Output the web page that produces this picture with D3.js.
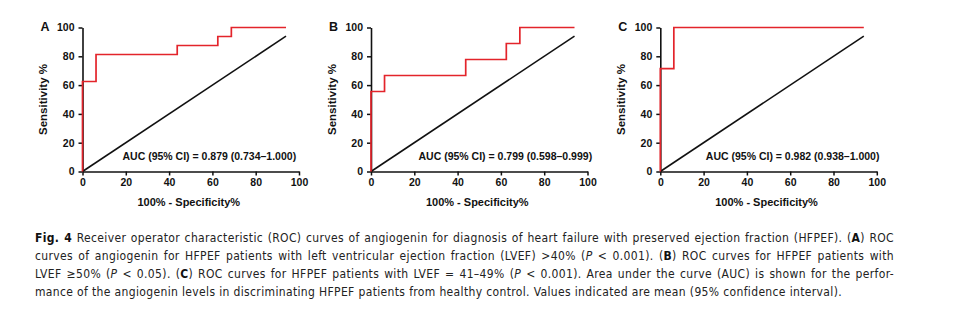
<!DOCTYPE html>
<html><head><meta charset="utf-8">
<script src="https://cdn.jsdelivr.net/npm/d3@7"></script>
<style>
body{margin:0;background:#fff;}
svg{display:block;}
</style></head>
<body>
<svg id="chart" width="953" height="321"></svg>
<script>
// ---- data ----
const panelLetters = ["A", "B", "C"];
const aucLabels = [
  "AUC (95% CI) = 0.879 (0.734–1.000)",
  "AUC (95% CI) = 0.799 (0.598–0.999)",
  "AUC (95% CI) = 0.982 (0.938–1.000)"
];
// ROC step vertices (100% - specificity %, sensitivity %)
const rocA_x = [0, 0, 6.25, 43.75, 62.5, 68.75, 94];
const rocA_y = [0, 62.5, 81.25, 87.5, 93.75, 100, 100];
const rocB_x = [0, 0, 6.25, 43.75, 62.5, 68.75, 94];
const rocB_y = [0, 55.56, 66.67, 77.78, 88.89, 100, 100];
const rocC_x = [0, 0, 6.25, 94];
const rocC_y = [0, 71.43, 100, 100];
const refLine_x = [0, 94];
const refLine_y = [0, 94];
const xTicks = [0, 20, 40, 60, 80, 100];
const yTicks = [0, 20, 40, 60, 80, 100];
const xTitle = "100% - Specificity%";
const yTitle = "Sensitivity %";

// caption: segments [text, style] ; style: n normal, b bold, i italic
const captionLines = [
  [["Fig. 4", "b"], [" Receiver operator characteristic (ROC) curves of angiogenin for diagnosis of heart failure with preserved ejection fraction (HFPEF). (", "n"], ["A", "b"], [") ROC", "n"]],
  [["curves of angiogenin for HFPEF patients with left ventricular ejection fraction (LVEF) >40% (", "n"], ["P", "i"], [" < 0.001). (", "n"], ["B", "b"], [") ROC curves for HFPEF patients with", "n"]],
  [["LVEF ≥50% (", "n"], ["P", "i"], [" < 0.05). (", "n"], ["C", "b"], [") ROC curves for HFPEF patients with LVEF = 41–49% (", "n"], ["P", "i"], [" < 0.001). Area under the curve (AUC) is shown for the perfor-", "n"]],
  [["mance of the angiogenin levels in discriminating HFPEF patients from healthy control. Values indicated are mean (95% confidence interval).", "n"]]
];

// ---- layout ----
const panels = [
  {x0: 82.5, aucX: 122.5, xs: rocA_x, ys: rocA_y},
  {x0: 371,  aucX: 418.5, xs: rocB_x, ys: rocB_y},
  {x0: 660.3, aucX: 705.8, xs: rocC_x, ys: rocC_y}
];
const plotW = 216.5, yTop = 27.5, yBot = 171.5;
const font = "'Liberation Sans', Arial, Helvetica, sans-serif";
const red = "#e3242b";

const svg = d3.select("#chart");
svg.append("rect").attr("width", 953).attr("height", 321).attr("fill", "#fff");

panels.forEach((p, i) => {
  const x = d3.scaleLinear().domain([0, 100]).range([p.x0, p.x0 + plotW]);
  const y = d3.scaleLinear().domain([0, 100]).range([yBot, yTop]);
  const g = svg.append("g");

  // diagonal reference
  const diag = refLine_x.map((d, k) => [d, refLine_y[k]]);
  g.append("path")
    .attr("d", d3.line().x(d => x(d[0])).y(d => y(d[1]))(diag))
    .attr("fill", "none").attr("stroke", "#111").attr("stroke-width", 1.6);

  // axes
  const ax = g.append("g").attr("transform", `translate(0,${yBot})`)
    .call(d3.axisBottom(x).tickValues(xTicks).tickSize(4).tickSizeOuter(0).tickPadding(3));
  const ay = g.append("g").attr("transform", `translate(${p.x0},0)`)
    .call(d3.axisLeft(y).tickValues(yTicks).tickSize(4).tickSizeOuter(0).tickPadding(4));
  [ax, ay].forEach(a => {
    a.select(".domain").attr("stroke", "#111").attr("stroke-width", 1.6);
    a.selectAll(".tick line").attr("stroke", "#111").attr("stroke-width", 1.5);
    a.selectAll(".tick text").attr("fill", "#111").style("font-family", font)
      .style("font-size", "10.5px").style("font-weight", "bold");
  });

  // ROC curve
  const pts = p.xs.map((d, k) => [d, p.ys[k]]);
  g.append("path")
    .attr("d", d3.line().curve(d3.curveStepAfter).x(d => x(d[0])).y(d => y(d[1]))(pts))
    .attr("fill", "none").attr("stroke", red).attr("stroke-width", 1.7);

  // titles
  g.append("text").attr("x", x(50) - 2).attr("y", 206)
    .attr("text-anchor", "middle").style("font-family", font)
    .style("font-size", "11px").style("font-weight", "bold").attr("fill", "#111")
    .text(xTitle);
  g.append("text").attr("transform", `translate(${p.x0 - 35.5},${y(50)}) rotate(-90)`)
    .attr("text-anchor", "middle").style("font-family", font)
    .style("font-size", "11.5px").style("font-weight", "bold").attr("fill", "#111")
    .text(yTitle);
  g.append("text").attr("x", p.x0 - 42).attr("y", 31)
    .style("font-family", font).style("font-size", "12.5px").style("font-weight", "bold")
    .attr("fill", "#111").text(panelLetters[i]);
  g.append("text").attr("x", p.aucX).attr("y", 159.5)
    .style("font-family", font).style("font-size", "10.5px").style("font-weight", "bold")
    .attr("fill", "#111").text(aucLabels[i]);
});

// caption
const capFont = "'Liberation Sans Narrow', 'Arial Narrow', 'DejaVu Sans Condensed', sans-serif";
const capX = 35, capRight = 894, lastRight = 842;
const baselines = [242, 260, 278, 296];
const capG = svg.append("g").style("font-family", capFont).style("font-size", "12px").attr("fill", "#222");
const textEls = captionLines.map((segs, li) => {
  const t = capG.append("text").attr("x", capX).attr("y", baselines[li]);
  segs.forEach(([s, st]) => {
    const ts = t.append("tspan").text(s);
    if (st === "b") ts.style("font-weight", "bold").attr("fill", "#111");
    if (st === "i") ts.style("font-style", "italic");
  });
  return t;
});
// letter spacing from the unjustified last line
const lastEl = textEls[3];
const lastNat = lastEl.node().getComputedTextLength();
const lastChars = captionLines[3].map(s => s[0]).join("").length;
const ls = Math.max(0, (lastRight - capX - lastNat) / lastChars);
textEls.forEach(t => t.attr("letter-spacing", ls));
// justify first three lines via word spacing
textEls.slice(0, 3).forEach((t, li) => {
  const nat = t.node().getComputedTextLength();
  const str = captionLines[li].map(s => s[0]).join("");
  const spaces = (str.match(/ /g) || []).length;
  const ws = (capRight - capX - nat) / spaces;
  t.attr("word-spacing", ws);
});
</script>
</body></html>
